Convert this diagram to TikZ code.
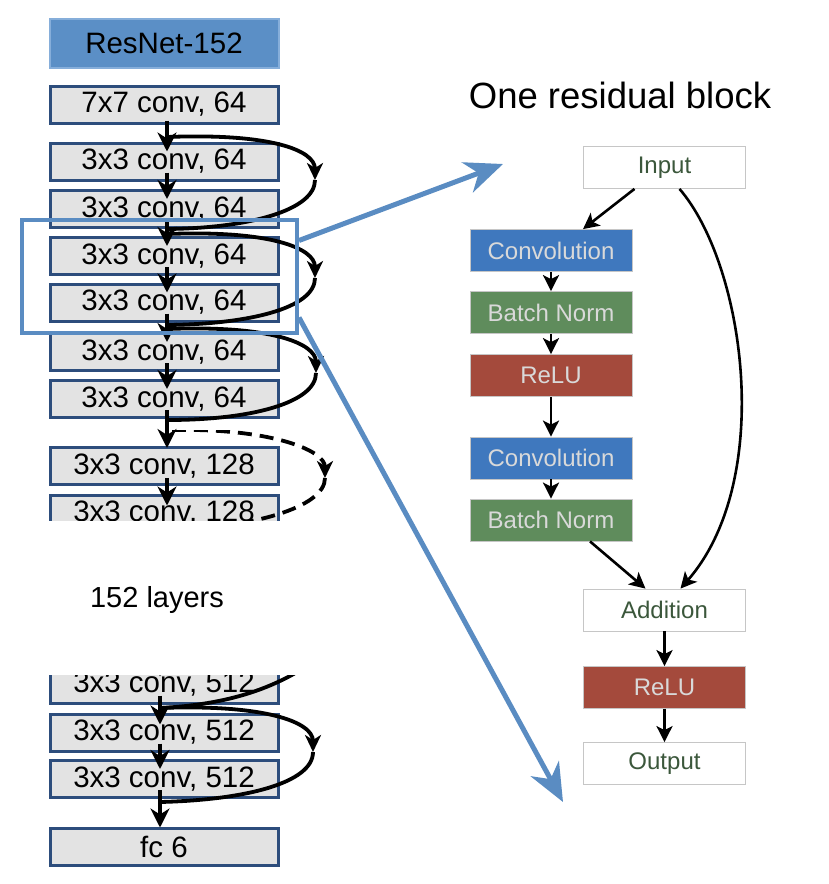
\documentclass[tikz,border=0pt]{standalone}
\usepackage{fontspec}
\setmainfont{Liberation Sans}
\usetikzlibrary{arrows.meta}
\definecolor{boxgray}{HTML}{E3E3E3}
\definecolor{boxedge}{HTML}{2D4D7C}
\definecolor{resblue}{HTML}{5B8FC6}
\definecolor{resedge}{HTML}{86AEDA}
\definecolor{hlblue}{HTML}{5A8CC2}
\definecolor{convblue}{HTML}{3F78BE}
\definecolor{bngreen}{HTML}{5F8C5C}
\definecolor{relured}{HTML}{A44A3C}
\definecolor{lighttext}{HTML}{D9D9D9}
\definecolor{darkgreentext}{HTML}{3B573B}
\tikzset{
  layerbox/.style={draw=boxedge, line width=3pt, fill=boxgray, minimum width=228pt, minimum height=37pt, inner sep=0pt, font=\fontsize{29.5}{32}\selectfont},
  headbox/.style={draw=resedge, line width=2pt, fill=resblue, minimum width=229pt, minimum height=49pt, inner sep=0pt, font=\fontsize{29.5}{32}\selectfont},
  rbox/.style={draw=gray!45, line width=0.8pt, minimum width=162pt, minimum height=42pt, inner sep=0pt, font=\fontsize{24}{27}\selectfont},
  whitebox/.style={rbox, fill=white, text=darkgreentext},
  colbox/.style={rbox, fill=#1, text=lighttext},
  varrow/.style={black, line width=3.8pt, -{Stealth[length=19pt,width=19pt,inset=6pt]}},
  skipline/.style={black, line width=3.8pt},
  skiparrow/.style={black, line width=3.8pt, -{Stealth[length=17pt,width=16pt,inset=5pt]}},
  rarrow/.style={black, line width=2.6pt, -{Stealth[length=16pt,width=16pt,inset=4pt]}},
  bluearrow/.style={hlblue, line width=5pt, -{Stealth[length=38pt,width=32pt,inset=12pt]}}
}
\begin{document}
\begin{tikzpicture}[x=1pt,y=-1pt]
\useasboundingbox (0,0) rectangle (828,884);
% ---------- left column ----------
\node[headbox] (b0) at (164,43) {ResNet-152};
\node[layerbox] (b1) at (164,104.5) {7x7 conv, 64};
\node[layerbox] (b2) at (164,161.5) {3x3 conv, 64};
\node[layerbox] (b3) at (164,209) {3x3 conv, 64};
\node[layerbox] (b4) at (164,256) {3x3 conv, 64};
\node[layerbox] (b5) at (164,302.5) {3x3 conv, 64};
\node[layerbox] (b6) at (164,352) {3x3 conv, 64};
\node[layerbox] (b7) at (164,399) {3x3 conv, 64};
\node[layerbox] (b8) at (164,466) {3x3 conv, 128};
\begin{scope}
  \clip (0,430) rectangle (420,520);
  \node[layerbox] (b9) at (164,513.5) {3x3 conv, 128};
  \draw[varrow] ([xshift=3pt,yshift=8pt]b8.south) -- ([xshift=3pt,yshift=-12pt]b9.north);
  \coordinate (s4a) at (172,430);
  \coordinate (s4m) at (325,478);
  \coordinate (s4b) at (168,530);
  \draw[skiparrow, dashed, dash pattern=on 14pt off 8pt] (s4a) .. controls (270,428) and (325,450) .. (s4m);
  \draw[skipline, dashed, dash pattern=on 14pt off 8pt] (s4m) .. controls (325,508) and (250,528) .. (s4b);
\end{scope}
\node[font=\fontsize{29}{32}\selectfont] (lay) at (157,600) {152 layers};
\begin{scope}
  \clip (0,675) rectangle (420,884);
  \node[layerbox] (c1) at (164,684.5) {3x3 conv, 512};
  \coordinate (cin) at (160,640);
  \draw[varrow] (cin) -- ([xshift=-4pt,yshift=-12pt]c1.north);
  \coordinate (s0a) at (350,630);
  \coordinate (s0b) at (160,708);
  \draw[skipline] (s0a) .. controls (300,682) and (240,704) .. (s0b);
\end{scope}
\node[layerbox] (c2) at (164,732.5) {3x3 conv, 512};
\node[layerbox] (c3) at (164,779) {3x3 conv, 512};
\node[layerbox] (fc) at (164,846.5) {fc 6};
% vertical arrows
\draw[varrow] ([xshift=3pt,yshift=4pt]b1.south) -- ([xshift=3pt,yshift=-10pt]b2.north);
\draw[varrow] ([xshift=3pt,yshift=9pt]b2.south) -- ([xshift=3pt,yshift=-10pt]b3.north);
\draw[varrow] ([xshift=3pt,yshift=9pt]b3.south) -- ([xshift=3pt,yshift=-10pt]b4.north);
\draw[varrow] ([xshift=3pt,yshift=9pt]b4.south) -- ([xshift=3pt,yshift=-10pt]b5.north);
\draw[varrow] ([xshift=3pt,yshift=9pt]b5.south) -- ([xshift=3pt,yshift=-10pt]b6.north);
\draw[varrow] ([xshift=3pt,yshift=9pt]b6.south) -- ([xshift=3pt,yshift=-10pt]b7.north);
\draw[varrow] ([xshift=3pt,yshift=9pt]b7.south) -- ([xshift=3pt,yshift=-2pt]b8.north);
\draw[varrow] ([xshift=-4pt,yshift=9pt]c1.south) -- ([xshift=-4pt,yshift=-12pt]c2.north);
\draw[varrow] ([xshift=-4pt,yshift=9pt]c2.south) -- ([xshift=-4pt,yshift=-10pt]c3.north);
\draw[varrow] ([xshift=-4pt,yshift=9pt]c3.south) -- ([xshift=-4pt,yshift=-1pt]fc.north);
% skip connections
\coordinate (s1a) at (167,137); \coordinate (s1m) at (315,180); \coordinate (s1b) at (168,229);
\draw[skiparrow] (s1a) .. controls (270,133) and (315,150) .. (s1m);
\draw[skipline] (s1m) .. controls (315,210) and (250,228) .. (s1b);
\coordinate (s2a) at (167,234); \coordinate (s2m) at (315,278); \coordinate (s2b) at (168,325);
\draw[skiparrow] (s2a) .. controls (270,230) and (315,248) .. (s2m);
\draw[skipline] (s2m) .. controls (315,308) and (250,324) .. (s2b);
\coordinate (s3a) at (167,329); \coordinate (s3m) at (316,373); \coordinate (s3b) at (168,420);
\draw[skiparrow] (s3a) .. controls (270,325) and (316,343) .. (s3m);
\draw[skipline] (s3m) .. controls (316,403) and (250,420) .. (s3b);
\coordinate (s5a) at (160,708); \coordinate (s5m) at (313,752); \coordinate (s5b) at (160,802);
\draw[skiparrow] (s5a) .. controls (265,704) and (313,722) .. (s5m);
\draw[skipline] (s5m) .. controls (313,783) and (245,800) .. (s5b);
% highlight box and blue arrows
\node[draw=hlblue, line width=4pt, minimum width=275pt, minimum height=113pt, inner sep=0pt] (hl) at (159.5,276.5) {};
\coordinate (tipA) at (503,164);
\coordinate (tipB) at (563,802);
\draw[bluearrow] ([yshift=36pt]hl.east) -- (tipA);
\draw[bluearrow] ([yshift=-41pt]hl.east) -- (tipB);
% ---------- residual block ----------
\node[font=\fontsize{36.5}{40}\selectfont] (title) at (620,95) {One residual block};
\node[whitebox] (in) at (664.5,167.5) {Input};
\node[colbox=convblue] (cv1) at (551,250.5) {Convolution};
\node[colbox=bngreen] (bn1) at (551,312.5) {Batch Norm};
\node[colbox=relured] (re1) at (551,375.5) {ReLU};
\node[colbox=convblue] (cv2) at (551,458) {Convolution};
\node[colbox=bngreen] (bn2) at (551,520) {Batch Norm};
\node[whitebox] (add) at (664.5,610) {Addition};
\node[colbox=relured] (re2) at (664.5,687.5) {ReLU};
\node[whitebox] (out) at (664.5,763.5) {Output};
\draw[rarrow] ([xshift=-30pt]in.south) -- ([xshift=32pt]cv1.north);
\draw[rarrow] (cv1) -- (bn1);
\draw[rarrow] (bn1) -- (re1);
\draw[rarrow] (re1) -- (cv2);
\draw[rarrow] (cv2) -- (bn2);
\draw[rarrow] ([xshift=39pt]bn2.south) -- ([xshift=-19pt]add.north);
\draw[rarrow] ([xshift=15pt]in.south) .. controls (745,265) and (775,480) .. ([xshift=16pt]add.north);
\draw[rarrow] (add) -- (re2);
\draw[rarrow] (re2) -- (out);
\end{tikzpicture}
\end{document}
